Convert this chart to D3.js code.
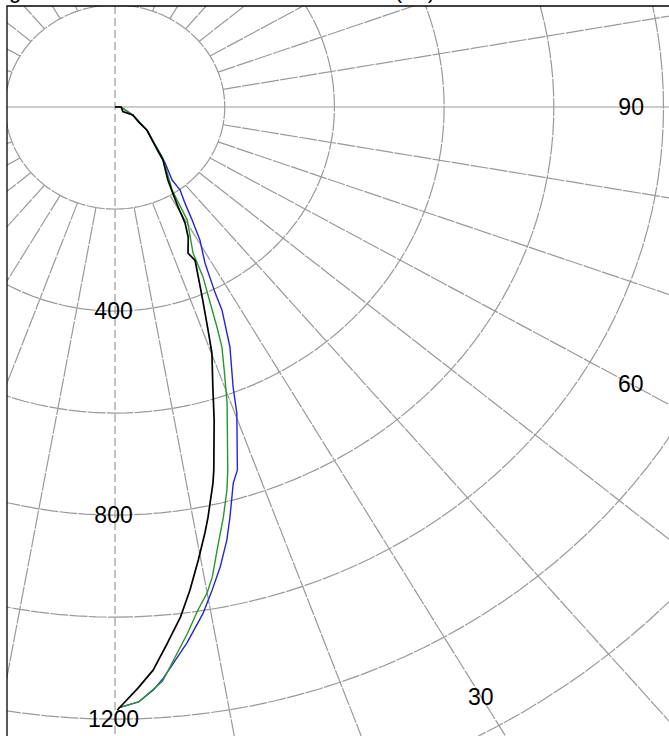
<!DOCTYPE html>
<html>
<head>
<meta charset="utf-8">
<script src="https://cdn.jsdelivr.net/npm/d3@7"></script>
<style>
  body { margin: 0; background: #fff; }
  svg { display: block; }
  text { font-family: "Liberation Sans", Arial, sans-serif; }
</style>
</head>
<body>
<svg id="chart" width="669" height="736"></svg>
<script>
// traces as [angle (deg, 0 = down, 90 = right), radius]
var blueTrace = [[90,0],[90,11],[64,36],[52,74],[45.2,100],[41.2,130],[39.7,143],[36.0,177],[36.1,201],
  [34.1,227],[32.4,262],[31.2,289],[30.7,303],[28.2,347],[26.6,408],[26.1,443],[24.0,515],[21.4,590],
  [20.3,640],[17.4,746],[16.3,768],[14.6,831],[13.5,873],[12.0,922],[10.6,963],[9.2,1005],[7.1,1059],
  [4.5,1123],[3.5,1145],[2.1,1167],[0.3,1178]];
var greenTrace = [[90,0],[90,11],[64,36],[52,74],[45.2,100],[41.2,130],[36.5,160],[32.6,193],[30.7,258],
  [26.4,320],[25.7,370],[24.3,422],[23.3,470],[22.5,509],[21.1,553],[19.4,615],[16.1,741],[15.2,778],
  [13.8,828],[12.1,888],[10.9,938],[10.0,967],[8.7,998],[7.3,1040],[4.4,1129],[2.1,1167],[0.3,1178]];
var blackTrace = [[90,0],[90,11],[58,17],[64,36],[56,51],[52,74],[45,99],[42,118],[40,136],[34,172],
  [32,198],[30.4,227],[29.3,261],[27.6,288],[24.9,316],[25.9,334],[23.1,405],[21.2,469],[20.1,514],
  [18.0,577],[16.4,640],[14.2,734],[13.6,759],[11.9,822],[11.1,851],[9.7,901],[8.2,957],[6.8,1007],
  [5.2,1055],[3.6,1106],[2.1,1140],[0.2,1182]];

var ringValues = d3.range(200, 2401, 200);
var spokeAngles = d3.range(0, 360, 10);
var radialTickLabels = ["400", "800", "1200"];
var angleTickLabels = ["30", "60", "90"];
var angleLabelRadius = [1334, 1086, 941];

var seriesColors = ["#2424d8", "#249a24", "#000000"];
var seriesWidths = [1.4, 1.4, 1.7];

var width = 669, height = 736;
var box = { left: 7, top: 6 };

var x = d3.scaleLinear().domain([-197, 1010]).range([box.left, width]);
var y = d3.scaleLinear().domain([-198, 1233]).range([box.top, height]);

function pt(theta, r) {
  var a = theta * Math.PI / 180;
  return [x(r * Math.sin(a)), y(r * Math.cos(a))];
}

var svg = d3.select("#chart");

svg.append("defs").append("clipPath").attr("id", "plotclip")
  .append("rect")
  .attr("x", box.left).attr("y", box.top)
  .attr("width", width - box.left).attr("height", height - box.top);

var plot = svg.append("g").attr("clip-path", "url(#plotclip)");
var grid = plot.append("g")
  .attr("fill", "none")
  .attr("stroke", "#999")
  .attr("stroke-width", 1.2);

// rings (stretched, the axes are not equal)
var ringLine = d3.line();
grid.selectAll("path.ring")
  .data(ringValues)
  .enter()
  .append("path")
  .attr("class", "ring")
  .attr("stroke-dasharray", "18,1.3")
  .attr("d", function(r) {
    return ringLine(d3.range(0, 361, 2).map(function(a) { return pt(a, r); })) + "Z";
  });

// spokes start at the first ring
grid.selectAll("line.spoke")
  .data(spokeAngles.filter(function(a) { return a % 90 !== 0; }))
  .enter()
  .append("line")
  .attr("class", "spoke")
  .attr("stroke-dasharray", "18,1.3")
  .attr("x1", function(a) { return pt(a, ringValues[0])[0]; })
  .attr("y1", function(a) { return pt(a, ringValues[0])[1]; })
  .attr("x2", function(a) { return pt(a, 2600)[0]; })
  .attr("y2", function(a) { return pt(a, 2600)[1]; });

grid.append("line")
  .attr("x1", x(0)).attr("x2", x(0))
  .attr("y1", box.top).attr("y2", height)
  .attr("stroke-dasharray", "8,4");

grid.append("line")
  .attr("x1", box.left).attr("x2", width)
  .attr("y1", y(0)).attr("y2", y(0));

// traces
var traceLine = d3.line().x(function(d) { return pt(d[0], d[1])[0]; })
  .y(function(d) { return pt(d[0], d[1])[1]; });

plot.selectAll("path.trace")
  .data([blueTrace, greenTrace, blackTrace])
  .enter()
  .append("path")
  .attr("class", "trace")
  .attr("fill", "none")
  .attr("stroke-linejoin", "round")
  .attr("stroke-width", function(d, i) { return seriesWidths[i]; })
  .attr("stroke", function(d, i) { return seriesColors[i]; })
  .attr("d", traceLine);

// labels
plot.selectAll("text.rlab")
  .data(radialTickLabels)
  .enter()
  .append("text")
  .attr("class", "rlab")
  .attr("x", function(d) { return pt(0, +d)[0] - 1.5; })
  .attr("y", function(d) { return pt(0, +d)[1]; })
  .attr("dy", "0.36em")
  .attr("text-anchor", "middle")
  .attr("font-size", 23)
  .text(function(d) { return d; });

plot.selectAll("text.alab")
  .data(angleTickLabels)
  .enter()
  .append("text")
  .attr("class", "alab")
  .attr("x", function(d, i) { return pt(+d, angleLabelRadius[i])[0]; })
  .attr("y", function(d, i) { return pt(+d, angleLabelRadius[i])[1]; })
  .attr("dy", "0.36em")
  .attr("text-anchor", "middle")
  .attr("font-size", 23)
  .text(function(d) { return d; });

// axes box (only left and top edges fall inside the picture)
svg.append("path")
  .attr("fill", "none")
  .attr("stroke", "#000")
  .attr("stroke-width", 1.3)
  .attr("d", "M" + box.left + "," + height + "V" + box.top + "H" + width);

// title, cut by the top edge as in the picture
svg.append("text")
  .attr("x", 9)
  .attr("y", -2)
  .attr("font-size", 22)
  .attr("textLength", 426)
  .attr("lengthAdjust", "spacing")
  .text("g-tracks of the three models (m)");
</script>
</body>
</html>
